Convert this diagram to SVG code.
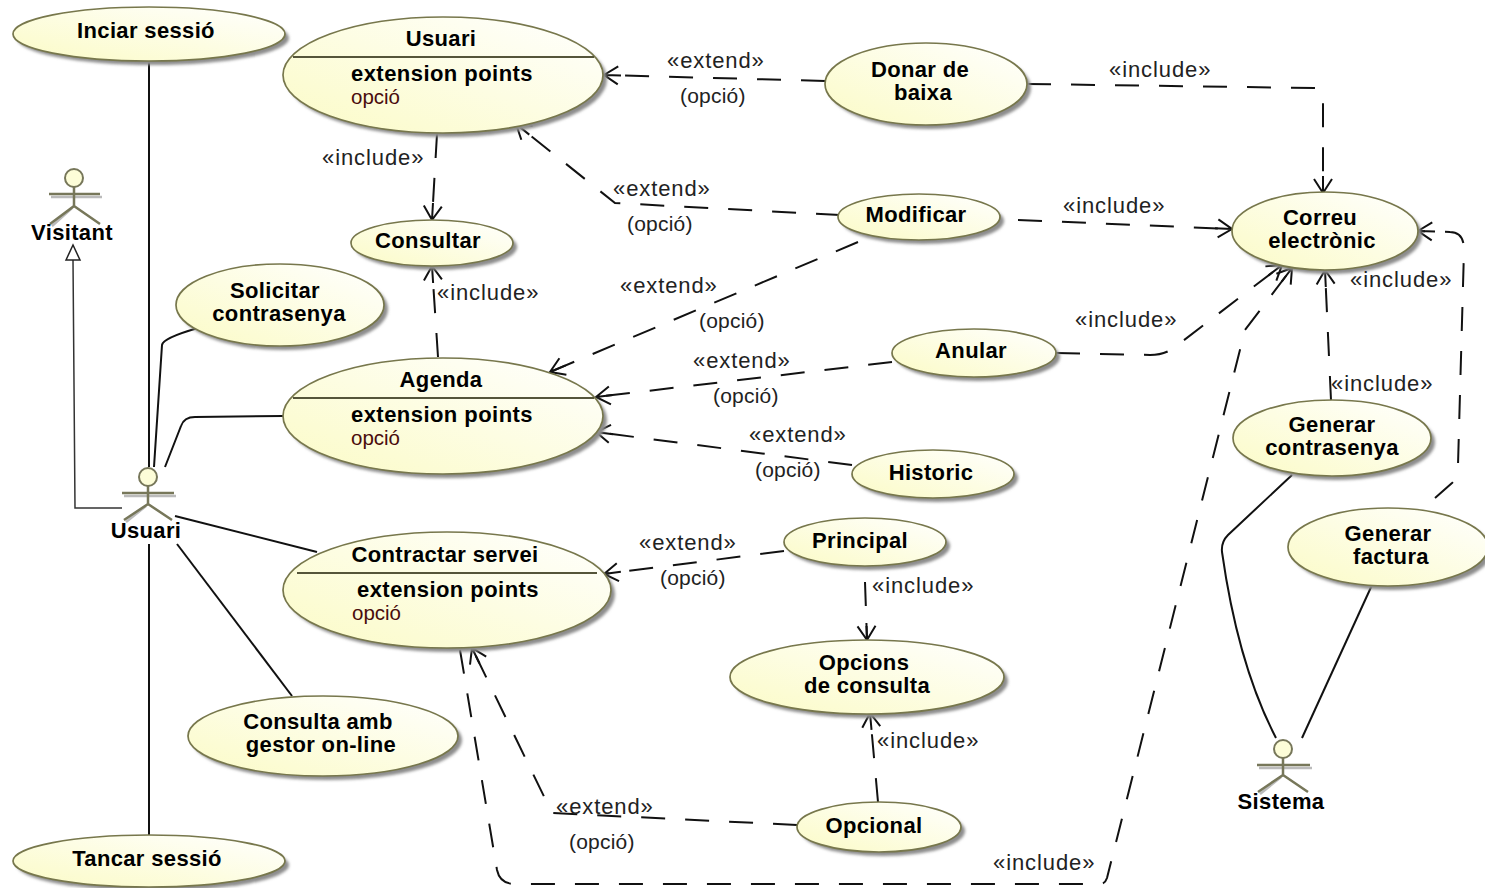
<svg xmlns="http://www.w3.org/2000/svg" width="1485" height="888" viewBox="0 0 1485 888">
<style>
text{font-family:"Liberation Sans",Arial,sans-serif;fill:#000}
.n{font-size:22px;font-weight:bold;text-anchor:middle;letter-spacing:.35px}
.ep{font-size:22px;font-weight:bold;letter-spacing:.45px}
.op{font-size:20.5px;fill:#4a0c0c}
.s{font-size:22px;fill:#222;letter-spacing:.9px}
.p{font-size:21px;fill:#222;letter-spacing:.2px}
.u{fill:url(#g);stroke:#77774c;stroke-width:1.7}
.sh{fill:#8c8c8c;filter:url(#b)}
.sep{stroke:#55553a;stroke-width:2}
.c{fill:none;stroke:#111;stroke-width:2}
.gen{fill:none;stroke:#333;stroke-width:1.5}
.x{fill:none;stroke:#111;stroke-width:2;stroke-dasharray:24 20;marker-end:url(#a)}
.act{fill:none;stroke:#77775a;stroke-width:2.5}
.ash{fill:none;stroke:#bbb;stroke-width:2.5}
.head{fill:#fdfdd8;stroke:#77775a;stroke-width:2}
</style>
<defs>
<linearGradient id="g" x1="1" y1="0" x2="0" y2="1"><stop offset="0" stop-color="#ffffff"/><stop offset="1" stop-color="#fbfbc6"/></linearGradient>
<filter id="b" x="-10%" y="-10%" width="120%" height="130%"><feGaussianBlur stdDeviation="1.5"/></filter>
<marker id="a" markerUnits="userSpaceOnUse" markerWidth="26" markerHeight="26" refX="21" refY="13" orient="auto"><path d="M7 4 L21 13 L7 22 M21 13 L4 13" fill="none" stroke="#111" stroke-width="2"/></marker>
</defs>
<rect width="1485" height="888" fill="#fff"/>
<g id="connectors">
<path class="c" d="M149 61V467"/>
<path class="c" d="M154 467L162 345Q163 338 198 328"/>
<path class="c" d="M165 467L181 426Q184 417 195 417L283 416"/>
<path class="c" d="M175 516L317 552"/>
<path class="c" d="M177 544L292 696"/>
<path class="c" d="M149 544V835"/>
<path class="gen" d="M122 508H75L73 260"/>
<path d="M66 260L73 245L80 260Z" fill="#fff" stroke="#222" stroke-width="1.5"/>
<path class="x" d="M437 134L432 220"/>
<path class="x" d="M438 357L432 266"/>
<path class="x" d="M825 81L604 75"/>
<path class="x" d="M840 215L615 203L516 124"/>
<path class="x" d="M858 242L550 372"/>
<path class="x" d="M892 362L596 397"/>
<path class="x" d="M852 465L596 432"/>
<path class="x" d="M784 551L604 574"/>
<path class="x" d="M797 825L552 813L472 648"/>
<path class="x" d="M865 582L867 640"/>
<path class="x" d="M878 802L870 713"/>
<path class="x" d="M1027 84L1315 88Q1323 88 1323 96V193"/>
<path class="x" d="M1018 220L1232 229"/>
<path class="x" d="M1056 353L1150 355Q1165 355 1175 347L1282 265"/>
<path class="x" d="M1331 400L1325 270"/>
<path class="x" d="M1435 498L1452 483Q1458 477 1458 465L1464 250Q1464 232 1450 232L1418 231"/>
<path class="x" d="M460 650L497 870Q500 884 515 884H1100Q1105 884 1107 878L1245 330L1292 268"/>
<path class="c" d="M1292 475L1228 535Q1221 542 1222 552Q1238 665 1276 738"/>
<path class="c" d="M1372 585L1302 738"/>
</g>
<g id="inciar-sessio"><ellipse class="sh" cx="153" cy="38" rx="136" ry="27"/><ellipse class="u" cx="149" cy="34" rx="136" ry="27"/><text class="n" x="146" y="38">Inciar sessió</text></g>
<g id="usuari-uc"><ellipse class="sh" cx="447" cy="79" rx="160" ry="58"/><ellipse class="u" cx="443" cy="75" rx="160" ry="58"/><path class="sep" d="M293 57H594"/><text class="n" x="441" y="46">Usuari</text><text class="ep" x="351" y="81">extension points</text><text class="op" x="351" y="104">opció</text></g>
<g id="consultar"><ellipse class="sh" cx="436" cy="247" rx="81" ry="23"/><ellipse class="u" cx="432" cy="243" rx="81" ry="23"/><text class="n" x="428" y="248">Consultar</text></g>
<g id="solicitar"><ellipse class="sh" cx="284" cy="309" rx="104" ry="41"/><ellipse class="u" cx="280" cy="305" rx="104" ry="41"/><text class="n" x="275" y="298">Solicitar</text><text class="n" x="279" y="321">contrasenya</text></g>
<g id="agenda"><ellipse class="sh" cx="447" cy="420" rx="160" ry="58"/><ellipse class="u" cx="443" cy="416" rx="160" ry="58"/><path class="sep" d="M293 398H594"/><text class="n" x="441" y="387">Agenda</text><text class="ep" x="351" y="422">extension points</text><text class="op" x="351" y="445">opció</text></g>
<g id="contractar"><ellipse class="sh" cx="451" cy="594" rx="164" ry="58"/><ellipse class="u" cx="447" cy="590" rx="164" ry="58"/><path class="sep" d="M297 573H597"/><text class="n" x="445" y="562">Contractar servei</text><text class="ep" x="357" y="597">extension points</text><text class="op" x="352" y="620">opció</text></g>
<g id="consulta-gestor"><ellipse class="sh" cx="327" cy="740" rx="135" ry="40"/><ellipse class="u" cx="323" cy="736" rx="135" ry="40"/><text class="n" x="318" y="729">Consulta amb</text><text class="n" x="321" y="752">gestor on-line</text></g>
<g id="tancar-sessio"><ellipse class="sh" cx="153" cy="865" rx="136" ry="26"/><ellipse class="u" cx="149" cy="861" rx="136" ry="26"/><text class="n" x="147" y="866">Tancar sessió</text></g>
<g id="donar-baixa"><ellipse class="sh" cx="930" cy="88" rx="101" ry="41"/><ellipse class="u" cx="926" cy="84" rx="101" ry="41"/><text class="n" x="920" y="77">Donar de</text><text class="n" x="923" y="100">baixa</text></g>
<g id="modificar"><ellipse class="sh" cx="923" cy="221" rx="81" ry="23"/><ellipse class="u" cx="919" cy="217" rx="81" ry="23"/><text class="n" x="916" y="222">Modificar</text></g>
<g id="anular"><ellipse class="sh" cx="978" cy="357" rx="82" ry="24"/><ellipse class="u" cx="974" cy="353" rx="82" ry="24"/><text class="n" x="971" y="358">Anular</text></g>
<g id="historic"><ellipse class="sh" cx="937" cy="478" rx="81" ry="24"/><ellipse class="u" cx="933" cy="474" rx="81" ry="24"/><text class="n" x="931" y="480">Historic</text></g>
<g id="principal"><ellipse class="sh" cx="869" cy="546" rx="81" ry="24"/><ellipse class="u" cx="865" cy="542" rx="81" ry="24"/><text class="n" x="860" y="548">Principal</text></g>
<g id="opcions"><ellipse class="sh" cx="871" cy="681" rx="137" ry="37"/><ellipse class="u" cx="867" cy="677" rx="137" ry="37"/><text class="n" x="864" y="670">Opcions</text><text class="n" x="867" y="693">de consulta</text></g>
<g id="opcional"><ellipse class="sh" cx="883" cy="831" rx="82" ry="25"/><ellipse class="u" cx="879" cy="827" rx="82" ry="25"/><text class="n" x="874" y="833">Opcional</text></g>
<g id="correu"><ellipse class="sh" cx="1329" cy="235" rx="93" ry="39"/><ellipse class="u" cx="1325" cy="231" rx="93" ry="39"/><text class="n" x="1320" y="225">Correu</text><text class="n" x="1322" y="248">electrònic</text></g>
<g id="generar-contrasenya"><ellipse class="sh" cx="1336" cy="442" rx="99" ry="38"/><ellipse class="u" cx="1332" cy="438" rx="99" ry="38"/><text class="n" x="1332" y="432">Generar</text><text class="n" x="1332" y="455">contrasenya</text></g>
<g id="generar-factura"><ellipse class="sh" cx="1392" cy="551" rx="100" ry="39"/><ellipse class="u" cx="1388" cy="547" rx="100" ry="39"/><text class="n" x="1388" y="541">Generar</text><text class="n" x="1391" y="564">factura</text></g>
<g id="visitant"><path class="ash" d="M51 197H102M72 208L52 226"/><path class="act" d="M49 194H100M74 187V206L50 224M74 206L100 224"/><circle class="head" cx="74" cy="178" r="9"/><text class="n" x="72" y="240">Visitant</text></g>
<g id="usuari-actor"><path class="ash" d="M124 496H176M146 506L126 522"/><path class="act" d="M122 493H174M148 486V504L124 520M148 504L172 520"/><circle class="head" cx="148" cy="477" r="9"/><text class="n" x="146" y="538">Usuari</text></g>
<g id="sistema"><path class="ash" d="M1259 768H1312M1281 777L1260 794"/><path class="act" d="M1257 765H1310M1283 758V775L1258 792M1283 775L1308 792"/><circle class="head" cx="1283" cy="749" r="9"/><text class="n" x="1281" y="809">Sistema</text></g>
<g id="labels">
<text class="s" x="667" y="68">«extend»</text><text class="p" x="680" y="103">(opció)</text>
<text class="s" x="1109" y="77">«include»</text>
<text class="s" x="322" y="165">«include»</text>
<text class="s" x="613" y="196">«extend»</text><text class="p" x="627" y="231">(opció)</text>
<text class="s" x="1063" y="213">«include»</text>
<text class="s" x="437" y="300">«include»</text>
<text class="s" x="620" y="293">«extend»</text><text class="p" x="699" y="328">(opció)</text>
<text class="s" x="1075" y="327">«include»</text>
<text class="s" x="693" y="368">«extend»</text><text class="p" x="713" y="403">(opció)</text>
<text class="s" x="749" y="442">«extend»</text><text class="p" x="755" y="477">(opció)</text>
<text class="s" x="1350" y="287">«include»</text>
<text class="s" x="1331" y="391">«include»</text>
<text class="s" x="639" y="550">«extend»</text><text class="p" x="660" y="585">(opció)</text>
<text class="s" x="872" y="593">«include»</text>
<text class="s" x="877" y="748">«include»</text>
<text class="s" x="556" y="814">«extend»</text><text class="p" x="569" y="849">(opció)</text>
<text class="s" x="993" y="870">«include»</text>
</g>
</svg>
